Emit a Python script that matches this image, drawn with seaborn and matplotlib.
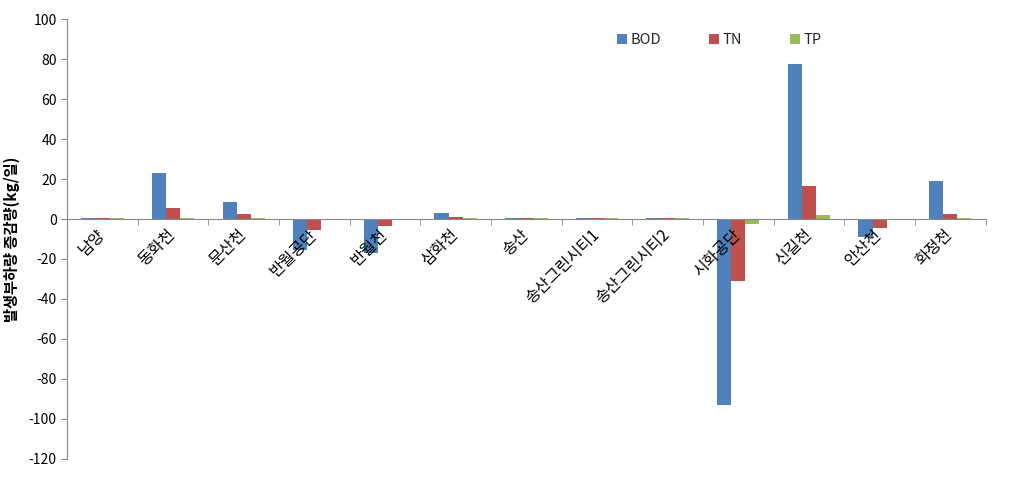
import matplotlib
matplotlib.use("Agg")
from matplotlib import pyplot as plt
import matplotlib.transforms as mtrans
import pandas as pd
import seaborn as sns
import numpy as np

# data
sites = ["남양", "동화천", "문산천", "반월공단", "반월천", "삼화천", "송산",
         "송산그린시티1", "송산그린시티2", "시화공단", "신길천", "안산천", "화정천"]
bod = [0.5, 23.0, 8.5, -15.5, -17.0, 3.2, 0.5, 0.5, 0.5, -93.0, 77.5, -8.8, 19.0]
tn = [0.5, 5.5, 2.5, -5.5, -3.5, 1.2, 0.5, 0.5, 0.5, -31.0, 16.7, -4.3, 2.5]
tp = [0.5, 0.5, 0.5, 0.0, 0.0, 0.5, 0.5, 0.5, 0.5, -2.7, 2.0, 0.0, 0.5]
series = ["BOD", "TN", "TP"]
colors = ["#4F81BD", "#C0504D", "#9BBB59"]

df = pd.DataFrame({"site": sites * 3,
                   "kind": np.repeat(series, len(sites)),
                   "value": bod + tn + tp})

sns.set_style("white")
plt.rcParams["font.family"] = ["Noto Sans CJK KR", "DejaVu Sans"]
plt.rcParams["axes.unicode_minus"] = False

fig, ax = plt.subplots(figsize=(10.32, 4.78), dpi=100)
fig.subplots_adjust(left=0.065, right=0.955, top=0.96, bottom=0.04)

sns.barplot(data=df, x="site", y="value", hue="kind", palette=colors,
            width=0.6, saturation=1, linewidth=0, ax=ax,
            order=sites, hue_order=series)

ax.set_ylim(-120, 100)
ax.set_yticks(np.arange(-120, 101, 20))
ax.set_xlim(-0.5, len(sites) - 0.5)
ax.set_xlabel("")
ax.set_ylabel("발생부하량 증감량(kg/일)", fontsize=11, fontweight="bold",
              color="black", labelpad=6)
ax.set_axisbelow(False)

for s in ["top", "right"]:
    ax.spines[s].set_visible(False)
ax.spines["left"].set_color("#888888")
ax.spines["bottom"].set_color("#888888")
ax.spines["bottom"].set_position(("data", 0))

ax.tick_params(axis="y", left=True, length=4, color="#888888",
               labelsize=10, labelcolor="black")
ax.set_xticks(np.arange(-0.5, len(sites), 1), minor=True)
ax.tick_params(axis="x", which="minor", bottom=True, length=4,
               color="#888888", direction="out")
ax.tick_params(axis="x", which="major", length=0, labelsize=11.5,
               labelcolor="black", pad=5)
shift = mtrans.ScaledTranslation(-6 / 100, 0, fig.dpi_scale_trans)
for lab in ax.get_xticklabels():
    lab.set_rotation(45)
    lab.set_ha("right")
    lab.set_rotation_mode("anchor")
    lab.set_transform(lab.get_transform() + shift)

ax.legend(ncol=3, frameon=False, loc="center", bbox_to_anchor=(0.71, 0.952),
          handlelength=0.7, handleheight=0.7, handletextpad=0.2,
          columnspacing=3.3, fontsize=10.5)

plt.savefig("out.png", dpi=100)
